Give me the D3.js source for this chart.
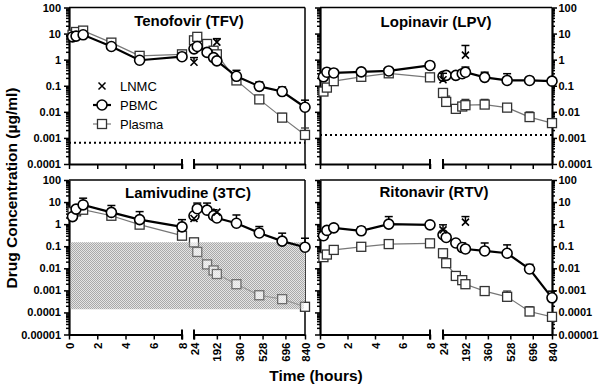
<!DOCTYPE html>
<html>
<head>
<meta charset="utf-8">
<script src="https://cdn.jsdelivr.net/npm/d3@7"></script>
<style>
  body { margin: 0; background: #fff; }
  svg { display: block; font-family: "Liberation Sans", Arial, sans-serif; }
</style>
</head>
<body>
<svg id="chart" width="600" height="388"></svg>
<script>
// ---------- DATA ----------
const earlyHours = [0.25, 0.5, 1, 3, 5, 8];
const lateHours = [24, 48, 120, 168, 192, 336, 504, 672, 840];
const lnmcHours = [24, 192];
const earlyTicks = [0, 2, 4, 6, 8];
const lateTicks = [24, 192, 360, 528, 696, 840];
const yTicksTop = [0.0001, 0.001, 0.01, 0.1, 1, 10, 100];
const yTicksBottom = [0.00001, 0.0001, 0.001, 0.01, 0.1, 1, 10, 100];
const seriesNames = ["LNMC", "PBMC", "Plasma"];
const yTitle = "Drug Concentration (µg/ml)";
const xTitle = "Time (hours)";

// Tenofovir
const tfvPbmcEarly = [7.5, 8, 9, 3.2, 0.95, 1.3];
const tfvPbmcLate = [2.6, 3.2, 1.9, 1.2, 0.9, 0.23, 0.095, 0.06, 0.015];
const tfvPbmcLateErr = [null, null, null, null, null, 0.39, 0.14, 0.09, 0.028];
const tfvPlasmaEarly = [9, 11.5, 13, 4.5, 1.4, 1.6];
const tfvPlasmaLate = [5.5, 7.5, 4, 2.2, 1.6, 0.16, 0.03, 0.006, 0.0013];
const tfvPlasmaLateErr = [null, null, null, null, null, null, null, 0.0087, 0.0024];
const tfvLnmc = [0.8, 4.7];
const tfvLnmcErr = [1.2, 6.4];
const tfvLloq = 0.00065;

// Lopinavir
const lpvPbmcEarly = [0.22, 0.33, 0.31, 0.34, 0.37, 0.6];
const lpvPbmcLate = [0.23, 0.25, 0.25, 0.29, 0.33, 0.21, 0.16, 0.16, 0.15];
const lpvPbmcLateErr = [null, null, null, null, 0.52, 0.33, 0.29, null, null];
const lpvPlasmaEarly = [0.06, 0.085, 0.15, 0.22, 0.3, 0.21];
const lpvPlasmaLate = [0.053, 0.024, 0.013, 0.016, 0.018, 0.019, 0.0145, 0.0063, 0.0037];
const lpvPlasmaLateErr = [null, 0.04, null, null, 0.03, 0.03, null, 0.0099, null];
const lpvLnmc = [0.17, 1.5];
const lpvLnmcErr = [0.3, 3.5];
const lpvLloq = 0.0013;

// Lamivudine
const tcPbmcEarly = [2.2, 4.8, 7.5, 3.4, 1.6, 0.75];
const tcPbmcEarlyErr = [null, null, 15, 7, 3.7, 1.6];
const tcPbmcLate = [2.4, 5, 4.3, 2.4, 1.9, 1.1, 0.4, 0.17, 0.09];
const tcPbmcLateErr = [null, 9, 9, 4.5, null, 2.6, 0.78, 0.39, 0.23];
const tcPlasmaEarly = [3.5, 3.8, 4.5, 2.4, 0.95, 0.3];
const tcPlasmaLate = [0.15, 0.055, 0.015, 0.008, 0.0055, 0.0019, 0.0006, 0.0004, 0.00018];
const tcPlasmaLateErr = [0.2, null, null, null, null, null, 0.0008, 0.0006, null];
const tcLnmc = [1.8, 3.5];
const tcLnmcErr = [null, null];
const tcShade = [0.00014, 0.15];

// Ritonavir
const rtvPbmcEarly = [0.3, 0.52, 0.68, 0.5, 1.0, 0.93];
const rtvPbmcEarlyErr = [null, null, null, 0.75, 2.2, null];
const rtvPbmcLate = [0.33, 0.25, 0.14, 0.087, 0.075, 0.061, 0.048, 0.0093, 0.00046];
const rtvPbmcLateErr = [null, null, null, 0.14, null, 0.14, 0.115, 0.015, 0.00092];
const rtvPlasmaEarly = [0.032, 0.042, 0.068, 0.094, 0.125, 0.135];
const rtvPlasmaLate = [0.048, 0.017, 0.0045, 0.0029, 0.0019, 0.00093, 0.00051, 0.00011, 0.000063];
const rtvPlasmaLateErr = [null, null, null, null, null, null, 0.00093, 0.00018, null];
const rtvLnmc = [0.55, 1.23];
const rtvLnmcErr = [0.93, 2.2];

// ---------- DRAW ----------
const svg = d3.select("#chart");
const defs = svg.append("defs");
const pat = defs.append("pattern").attr("id", "hatch").attr("patternUnits", "userSpaceOnUse")
  .attr("width", 2).attr("height", 2);
pat.append("rect").attr("width", 2).attr("height", 2).attr("fill", "#e4e4e4");
pat.append("rect").attr("x", 0).attr("y", 0).attr("width", 1).attr("height", 1).attr("fill", "#a9a9a9");
pat.append("rect").attr("x", 1).attr("y", 1).attr("width", 1).attr("height", 1).attr("fill", "#a9a9a9");

const FONT = "'Liberation Sans', Arial, sans-serif";
const fmt = d => d >= 1 ? String(d) : d.toFixed(Math.round(-Math.log10(d)));

function minorTicks(domain) {
  const out = [];
  const lo = Math.round(Math.log10(domain[0])), hi = Math.round(Math.log10(domain[1]));
  for (let e = lo; e < hi; e++) for (let k = 2; k <= 9; k++) out.push(k * Math.pow(10, e));
  return out;
}

function zip(xs, ys, errs) {
  return xs.map((x, i) => ({ x, y: ys[i], e: errs ? errs[i] : null })).filter(d => d.y != null);
}

function drawPanel(c) {
  const g = svg.append("g");
  const xL = d3.scaleLinear().domain([0, 8]).range([c.x0, c.xb1]);
  const xR = d3.scaleLinear().domain([24, 840]).range([c.xb2, c.x1]);
  const y = d3.scaleLog().domain([c.yMin, 100]).range([c.yBot, c.yTop]);

  // frame
  g.append("line").attr("x1", c.x0).attr("x2", c.x1).attr("y1", c.yTop).attr("y2", c.yTop)
    .attr("stroke", "#000").attr("stroke-width", 1.5);
  if (c.side === "left") {
    g.append("line").attr("x1", c.x1).attr("x2", c.x1).attr("y1", c.yTop).attr("y2", c.yBot)
      .attr("stroke", "#000").attr("stroke-width", 1.5);
  }

  // shaded region
  if (c.shade) {
    g.append("rect").attr("x", c.x0).attr("width", c.x1 - c.x0)
      .attr("y", y(c.shade[1])).attr("height", y(c.shade[0]) - y(c.shade[1]))
      .attr("fill", "url(#hatch)");
  }
  // LLOQ dotted line
  if (c.lloq) {
    g.append("line").attr("x1", c.x0).attr("x2", c.x1).attr("y1", y(c.lloq)).attr("y2", y(c.lloq))
      .attr("stroke", "#000").attr("stroke-width", 2).attr("stroke-dasharray", "2,3");
  }

  // axes
  const majors = c.yMin === 1e-4 ? yTicksTop : yTicksBottom;
  const minors = minorTicks([c.yMin, 100]);
  g.append("g").attr("transform", `translate(${c.x0},0)`)
    .call(d3.axisLeft(y).tickValues(majors).tickSize(5).tickSizeOuter(0).tickPadding(3)
      .tickFormat(c.side === "left" ? fmt : ""));
  g.append("g").attr("transform", `translate(${c.x0},0)`)
    .call(d3.axisLeft(y).tickValues(minors).tickSize(3).tickSizeOuter(0).tickFormat(""))
    .select(".domain").remove();
  if (c.side === "right") {
    g.append("g").attr("transform", `translate(${c.x1},0)`)
      .call(d3.axisRight(y).tickValues(majors).tickSize(5).tickSizeOuter(0).tickPadding(1.5).tickFormat(fmt));
    g.append("g").attr("transform", `translate(${c.x1},0)`)
      .call(d3.axisRight(y).tickValues(minors).tickSize(3).tickSizeOuter(0).tickFormat(""))
      .select(".domain").remove();
  }
  const axL = g.append("g").attr("transform", `translate(0,${c.yBot})`)
    .call(d3.axisBottom(xL).tickValues(earlyTicks).tickSize(5).tickSizeOuter(0)
      .tickFormat(c.labels ? d3.format("d") : ""));
  const axR = g.append("g").attr("transform", `translate(0,${c.yBot})`)
    .call(d3.axisBottom(xR).tickValues(lateTicks).tickSize(5).tickSizeOuter(0)
      .tickFormat(c.labels ? d3.format("d") : ""));
  // break caps
  [xL(8), xR(24)].forEach(px => {
    g.append("line").attr("x1", px).attr("x2", px).attr("y1", c.yBot - 5).attr("y2", c.yBot + 5)
      .attr("stroke", "#000").attr("stroke-width", 2);
  });

  g.selectAll(".domain").attr("stroke-width", 2.2).attr("stroke", "#000");
  g.selectAll(".tick line").attr("stroke-width", 1.5).attr("stroke", "#000");
  g.selectAll(".tick text").attr("font-family", FONT).attr("font-size", 11)
    .attr("font-weight", "bold").attr("fill", "#000");
  [axL, axR].forEach(ax => {
    ax.selectAll(".tick text").attr("transform", "rotate(-90)").attr("font-size", 11.5)
      .attr("text-anchor", "end").attr("x", -8).attr("y", 0).attr("dy", "0.35em");
  });

  // series
  const drawLine = (pts, color, w) => g.append("path").datum(pts)
    .attr("d", d3.line().x(d => d.px).y(d => y(d.y)))
    .attr("fill", "none").attr("stroke", color).attr("stroke-width", w);
  const drawErr = (pts, color, w) => pts.filter(d => d.e != null).forEach(d => {
    g.append("line").attr("x1", d.px).attr("x2", d.px).attr("y1", y(d.y)).attr("y2", y(d.e))
      .attr("stroke", color).attr("stroke-width", w);
    g.append("line").attr("x1", d.px - 4).attr("x2", d.px + 4).attr("y1", y(d.e)).attr("y2", y(d.e))
      .attr("stroke", color).attr("stroke-width", w);
  });
  const prep = (early, late, errE, errL) => [
    zip(earlyHours, early, errE).map(d => ({ ...d, px: xL(d.x) })),
    zip(lateHours, late, errL).map(d => ({ ...d, px: xR(d.x) }))
  ];

  const plasma = prep(c.plasmaEarly, c.plasmaLate, c.plasmaEarlyErr, c.plasmaLateErr);
  plasma.forEach(pts => {
    drawLine(pts, "#777", 1.2);
    drawErr(pts, "#333", 1.3);
    g.selectAll(null).data(pts).enter().append("rect")
      .attr("x", d => d.px - 4.5).attr("y", d => y(d.y) - 4.5).attr("width", 9).attr("height", 9)
      .attr("fill", "#fff").attr("stroke", "#333").attr("stroke-width", 1.3);
  });
  if (c.shade) {
    g.append("rect").attr("x", c.x0 + 1).attr("width", c.x1 - c.x0 - 2)
      .attr("y", y(c.shade[1])).attr("height", y(c.shade[0]) - y(c.shade[1]))
      .attr("fill", "url(#hatch)").attr("opacity", 0.4);
  }
  const pbmc = prep(c.pbmcEarly, c.pbmcLate, c.pbmcEarlyErr, c.pbmcLateErr);
  pbmc.forEach(pts => {
    drawLine(pts, "#000", 2.2);
    drawErr(pts, "#000", 1.5);
    g.selectAll(null).data(pts).enter().append("circle")
      .attr("cx", d => d.px).attr("cy", d => y(d.y)).attr("r", 5)
      .attr("fill", "#fff").attr("stroke", "#000").attr("stroke-width", 1.6);
  });
  const ln = zip(lnmcHours, c.lnmc, c.lnmcErr).map(d => ({ ...d, px: xR(d.x) }));
  drawErr(ln, "#000", 1.5);
  ln.forEach(d => {
    const cx = d.px, cy = y(d.y), s = 3.5;
    g.append("path").attr("d", `M${cx - s},${cy - s}L${cx + s},${cy + s}M${cx - s},${cy + s}L${cx + s},${cy - s}`)
      .attr("stroke", "#000").attr("stroke-width", 1.6);
  });

  // title
  g.append("text").attr("x", c.titleX).attr("y", c.titleY).attr("text-anchor", "middle")
    .attr("font-family", FONT).attr("font-size", 15).attr("font-weight", "bold").text(c.title);
}

drawPanel({
  side: "left", x0: 69, xb1: 182, xb2: 194, x1: 305, yTop: 7.5, yBot: 164, yMin: 1e-4,
  title: "Tenofovir (TFV)", titleX: 189, titleY: 26, labels: false,
  pbmcEarly: tfvPbmcEarly, pbmcLate: tfvPbmcLate, pbmcEarlyErr: null, pbmcLateErr: tfvPbmcLateErr,
  plasmaEarly: tfvPlasmaEarly, plasmaLate: tfvPlasmaLate, plasmaEarlyErr: null, plasmaLateErr: tfvPlasmaLateErr,
  lnmc: tfvLnmc, lnmcErr: tfvLnmcErr, lloq: tfvLloq
});
drawPanel({
  side: "right", x0: 320, xb1: 430, xb2: 443, x1: 552, yTop: 7.5, yBot: 164, yMin: 1e-4,
  title: "Lopinavir (LPV)", titleX: 436, titleY: 27, labels: false,
  pbmcEarly: lpvPbmcEarly, pbmcLate: lpvPbmcLate, pbmcEarlyErr: null, pbmcLateErr: lpvPbmcLateErr,
  plasmaEarly: lpvPlasmaEarly, plasmaLate: lpvPlasmaLate, plasmaEarlyErr: null, plasmaLateErr: lpvPlasmaLateErr,
  lnmc: lpvLnmc, lnmcErr: lpvLnmcErr, lloq: lpvLloq
});
drawPanel({
  side: "left", x0: 69, xb1: 182, xb2: 194, x1: 305, yTop: 180, yBot: 334.5, yMin: 1e-5,
  title: "Lamivudine (3TC)", titleX: 188, titleY: 198, labels: true,
  pbmcEarly: tcPbmcEarly, pbmcLate: tcPbmcLate, pbmcEarlyErr: tcPbmcEarlyErr, pbmcLateErr: tcPbmcLateErr,
  plasmaEarly: tcPlasmaEarly, plasmaLate: tcPlasmaLate, plasmaEarlyErr: null, plasmaLateErr: tcPlasmaLateErr,
  lnmc: tcLnmc, lnmcErr: tcLnmcErr, shade: tcShade
});
drawPanel({
  side: "right", x0: 320, xb1: 430, xb2: 443, x1: 552, yTop: 180, yBot: 334.5, yMin: 1e-5,
  title: "Ritonavir (RTV)", titleX: 434, titleY: 197, labels: true,
  pbmcEarly: rtvPbmcEarly, pbmcLate: rtvPbmcLate, pbmcEarlyErr: rtvPbmcEarlyErr, pbmcLateErr: rtvPbmcLateErr,
  plasmaEarly: rtvPlasmaEarly, plasmaLate: rtvPlasmaLate, plasmaEarlyErr: null, plasmaLateErr: rtvPlasmaLateErr,
  lnmc: rtvLnmc, lnmcErr: rtvLnmcErr
});

// legend (inside TFV panel)
const lg = svg.append("g");
const legRows = [86, 105, 124];
seriesNames.forEach((name, i) => {
  const cy = legRows[i], cx = 102;
  if (i === 0) {
    const s = 3.5;
    lg.append("path").attr("d", `M${cx - s},${cy - s}L${cx + s},${cy + s}M${cx - s},${cy + s}L${cx + s},${cy - s}`)
      .attr("stroke", "#000").attr("stroke-width", 1.5);
  } else if (i === 1) {
    lg.append("line").attr("x1", cx - 9).attr("x2", cx + 9).attr("y1", cy).attr("y2", cy)
      .attr("stroke", "#000").attr("stroke-width", 2.2);
    lg.append("circle").attr("cx", cx).attr("cy", cy).attr("r", 5).attr("fill", "#fff")
      .attr("stroke", "#000").attr("stroke-width", 1.6);
  } else {
    lg.append("line").attr("x1", cx - 9).attr("x2", cx + 9).attr("y1", cy).attr("y2", cy)
      .attr("stroke", "#777").attr("stroke-width", 1.2);
    lg.append("rect").attr("x", cx - 4.5).attr("y", cy - 4.5).attr("width", 9).attr("height", 9)
      .attr("fill", "#fff").attr("stroke", "#333").attr("stroke-width", 1.3);
  }
  lg.append("text").attr("x", 120).attr("y", cy).attr("dy", "0.35em")
    .attr("font-family", FONT).attr("font-size", 13).text(name);
});

// axis titles
svg.append("text").attr("transform", "translate(17,188) rotate(-90)").attr("text-anchor", "middle")
  .attr("font-family", FONT).attr("font-size", 15.5).attr("font-weight", "bold").text(yTitle);
svg.append("text").attr("x", 316).attr("y", 381).attr("text-anchor", "middle")
  .attr("font-family", FONT).attr("font-size", 15.5).attr("font-weight", "bold").text(xTitle);
</script>
</body>
</html>
